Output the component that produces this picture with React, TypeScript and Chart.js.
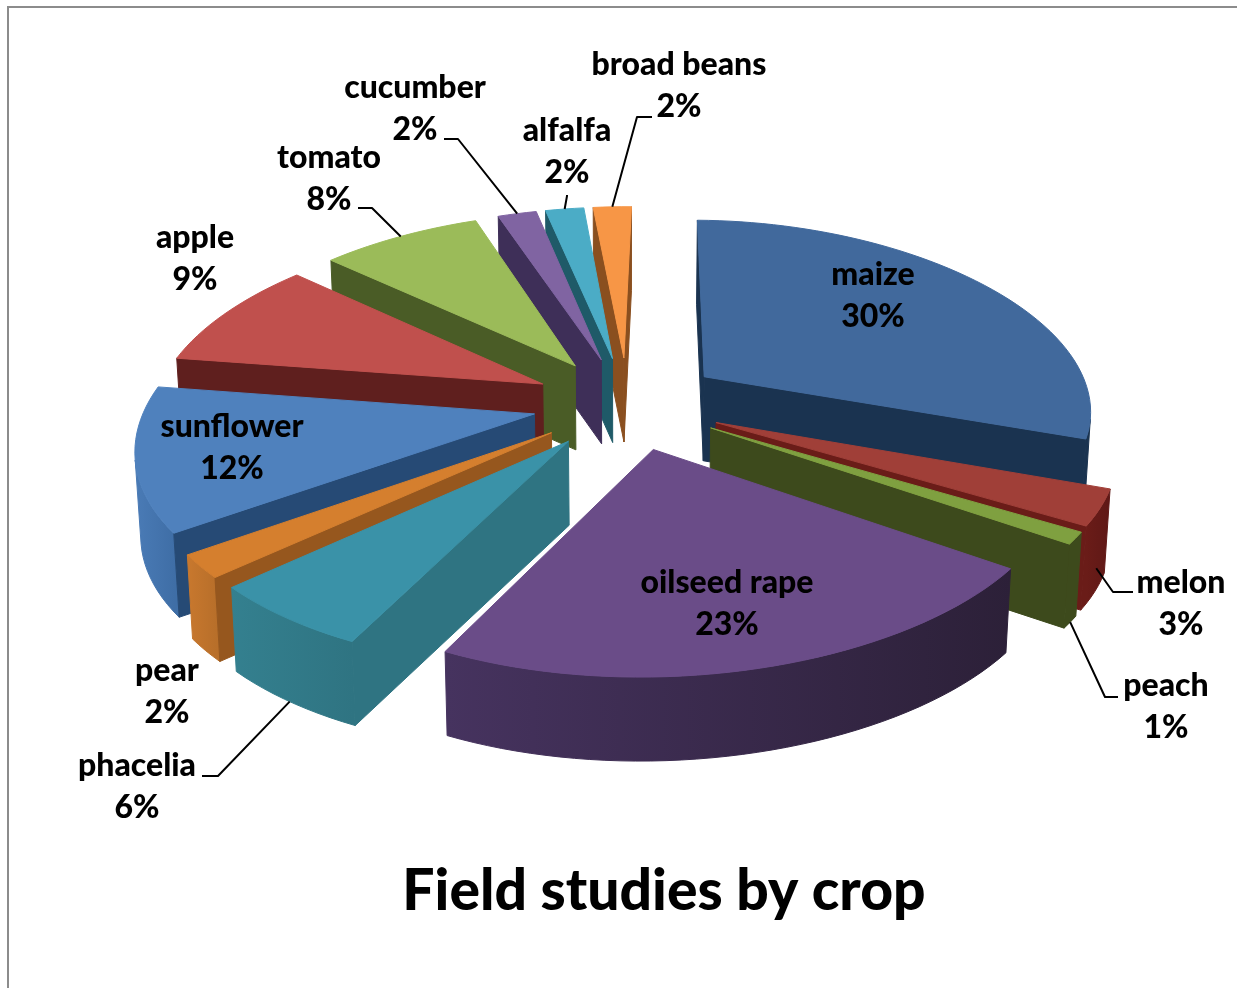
import React, { useEffect, useRef } from "react";
import { Chart, registerables } from "chart.js";

Chart.register(...registerables);

// Share of field studies per crop, clockwise from twelve o'clock.
const crops = ["maize", "melon", "peach", "oilseed rape", "phacelia", "pear", "sunflower", "apple", "tomato", "cucumber", "alfalfa", "broad beans"];
const shares = [30, 3, 1, 23, 6, 2, 12, 9, 8, 2, 2, 2];
const chartTitle = "Field studies by crop";

// Face colours: top, cut sides, outer wall at its left and right ends.
const topColors = ["#41699c", "#a03f38", "#7fa040", "#6a4c88", "#3a92a8", "#d57f2e", "#4f81bd", "#c0504d", "#9bbb59", "#8064a2", "#4bacc6", "#f79646"];
const cutColors = ["#1a3350", "#6a1c18", "#3d4a1c", "#3c2c55", "#2f7482", "#96571e", "#264a75", "#5f1f1e", "#4a5c26", "#3e2f58", "#1f5a68", "#8a4f1f"];
const wallLeft = ["#1a3350", "#6a1c18", "#3d4a1c", "#46335f", "#34808f", "#c8782e", "#4a7bb6", "#5f1f1e", "#4a5c26", "#3e2f58", "#1f5a68", "#8a4f1f"];
const wallRight = ["#1a3350", "#5e1816", "#3d4a1c", "#2c2038", "#2f7482", "#b86f2a", "#3f6ea6", "#5f1f1e", "#4a5c26", "#3e2f58", "#1f5a68", "#8a4f1f"];

// Centre of each two-line label on the canvas.
const labelCentres: [number, number][] = [
  [873, 296], [1181, 604], [1166, 707], [727, 604], [137, 787], [167, 692],
  [232, 448], [195, 259], [329, 179], [415, 109], [567, 152], [679, 86],
];

// Leader lines: the label-side end, the elbow, and how far down the wall they touch.
const leaders: { index: number; from: [number, number]; elbow: [number, number]; drop: number; along: number }[] = [
  { index: 1, from: [1133, 592], elbow: [1113, 592], drop: 0.72, along: 0.5 },
  { index: 2, from: [1118, 697], elbow: [1105, 697], drop: 1, along: 0.5 },
  { index: 4, from: [202, 776], elbow: [218, 776], drop: 1, along: 0.5 },
  { index: 8, from: [358, 208], elbow: [372, 208], drop: 0, along: 0.5 },
  { index: 9, from: [444, 139], elbow: [458, 139], drop: 0, along: 0.5 },
  { index: 10, from: [567, 195], elbow: [567, 196], drop: 0, along: 0.5 },
  { index: 11, from: [652, 117], elbow: [637, 117], drop: 0, along: 0.5 },
];

const FONT = "Lato, 'Open Sans', sans-serif";

// Viewing projection of the pie plane, in units of the pie radius.
const VIEW = { cx: 628, cy: 403, fx: 388, fy: 190, kx: 0.166, qx: 0.043, ky: 0.14, qy: 0.02, depth: 84, taper: 0.012, skewNear: -11, skewFar: 1 };

type Pt = [number, number];

function project(px: number, py: number, drop: number): Pt {
  const sx = 1 / (1 - VIEW.kx * py + VIEW.qx * py * py);
  const sy = 1 / (1 - VIEW.ky * py + VIEW.qy * py * py);
  const skew = (py > 0 ? VIEW.skewNear : VIEW.skewFar) * py * py;
  return [
    VIEW.cx + skew + VIEW.fx * px * sx * (1 - VIEW.taper * drop),
    VIEW.cy + VIEW.fy * py * sy + VIEW.depth * drop,
  ];
}

function fillPoly(ctx: CanvasRenderingContext2D, pts: Pt[], fill: string | CanvasGradient) {
  ctx.beginPath();
  pts.forEach((p, i) => (i ? ctx.lineTo(p[0], p[1]) : ctx.moveTo(p[0], p[1])));
  ctx.closePath();
  ctx.fillStyle = fill;
  ctx.strokeStyle = fill;
  ctx.lineWidth = 1;
  ctx.fill();
  ctx.stroke();
}

// Negative area in y-down space: the face turns towards the viewer.
function facesViewer(pts: Pt[]) {
  let a = 0;
  pts.forEach((p, i) => {
    const q = pts[(i + 1) % pts.length];
    a += p[0] * q[1] - q[0] * p[1];
  });
  return a < 0;
}

// Geometry of one slice, read from the pie's own arc element.
function sliceShape(arc: any) {
  const { startAngle, endAngle, outerRadius } = arc.getProps(["startAngle", "endAngle", "outerRadius"], true);
  const mid = (startAngle + endAngle) / 2;
  const off = (arc.options.offset || 0) / outerRadius;
  const ax = Math.cos(mid) * off;
  const ay = Math.sin(mid) * off;
  const steps = Math.max(2, Math.ceil(((endAngle - startAngle) / Math.PI) * 90));
  const rim: Pt[] = [];
  for (let i = 0; i <= steps; i++) {
    const a = startAngle + ((endAngle - startAngle) * i) / steps;
    rim.push([ax + Math.cos(a), ay + Math.sin(a)]);
  }
  return { ax, ay, mid, rim, startAngle, endAngle };
}

const solidPie = {
  id: "solidPie",
  beforeDatasetDraw(chart: any) {
    const ctx: CanvasRenderingContext2D = chart.ctx;
    const arcs = chart.getDatasetMeta(0).data;
    const shapes = arcs.map((arc: any, index: number) => ({ index, ...sliceShape(arc) }));
    const depthOf = (s: any) => s.ay + Math.sin(s.mid) * 0.55;
    const order = [...shapes].sort((a, b) => depthOf(a) - depthOf(b));

    for (const s of order) {
      const i = s.index;
      const top = [[s.ax, s.ay] as Pt, ...s.rim].map((p: Pt) => project(p[0], p[1], 0));
      const quad = (p: Pt, q: Pt): Pt[] => [project(p[0], p[1], 0), project(q[0], q[1], 0), project(q[0], q[1], 1), project(p[0], p[1], 1)];
      const apex: Pt = [s.ax, s.ay];
      const last = s.rim[s.rim.length - 1];

      // Outer wall as one band, shaded from left to right across its visible width.
      const xs = s.rim.map((p: Pt) => project(p[0], p[1], 0)[0]);
      const grad = ctx.createLinearGradient(Math.min(...xs), 0, Math.max(...xs) + 1, 0);
      grad.addColorStop(0, wallLeft[i]);
      grad.addColorStop(1, wallRight[i]);
      const upper: Pt[] = [];
      const lower: Pt[] = [];
      const flushBand = () => {
        if (upper.length > 1) fillPoly(ctx, [...upper, ...lower.slice().reverse()], grad);
        upper.length = 0;
        lower.length = 0;
      };
      for (let k = 0; k < s.rim.length - 1; k++) {
        const a = s.rim[k];
        const b = s.rim[k + 1];
        if (facesViewer(quad(a, b))) {
          if (!upper.length) {
            upper.push(project(a[0], a[1], 0));
            lower.push(project(a[0], a[1], 1));
          }
          upper.push(project(b[0], b[1], 0));
          lower.push(project(b[0], b[1], 1));
        } else {
          flushBand();
        }
      }
      flushBand();
      // The two cut sides running in to the apex.
      const cutA = quad(apex, s.rim[0]);
      if (facesViewer(cutA)) fillPoly(ctx, cutA, cutColors[i]);
      const cutB = quad(last, apex);
      if (facesViewer(cutB)) fillPoly(ctx, cutB, cutColors[i]);
      fillPoly(ctx, top, topColors[i]);
    }

    // Leader lines end on the slice's rim.
    ctx.strokeStyle = "#000";
    ctx.lineWidth = 2;
    ctx.lineJoin = "round";
    for (const l of leaders) {
      const s = shapes[l.index];
      const a = s.startAngle + (s.endAngle - s.startAngle) * l.along;
      const end = project(s.ax + Math.cos(a), s.ay + Math.sin(a), l.drop);
      ctx.beginPath();
      ctx.moveTo(l.from[0], l.from[1]);
      ctx.lineTo(l.elbow[0], l.elbow[1]);
      ctx.lineTo(end[0], end[1]);
      ctx.stroke();
    }

    // Category and percentage labels.
    ctx.fillStyle = "#000";
    ctx.textAlign = "center";
    ctx.textBaseline = "middle";
    ctx.font = `900 32px ${FONT}`;
    crops.forEach((name, i) => {
      const [x, y] = labelCentres[i];
      ctx.fillText(name, x, y - 21);
      ctx.fillText(`${shares[i]}%`, x, y + 21);
    });
    ctx.font = `900 57px ${FONT}`;
    ctx.fillText(chartTitle, 664, 892);
    return false;
  },
};

export default function App() {
  const ref = useRef<HTMLCanvasElement | null>(null);
  useEffect(() => {
    if (!ref.current) return;
    const chart = new Chart(ref.current, {
      type: "pie",
      data: {
        labels: crops,
        datasets: [{ data: shares, backgroundColor: topColors, offset: 108, borderWidth: 0 }],
      },
      options: {
        responsive: false,
        animation: false,
        rotation: 1,
        plugins: { legend: { display: false }, tooltip: { enabled: false } },
      },
      plugins: [solidPie],
    } as any);
    return () => chart.destroy();
  }, []);
  return (
    <div style={{ position: "fixed", left: 0, top: 0, width: 1237, height: 988, overflow: "hidden", background: "#fff" }}>
      <div style={{ position: "absolute", left: 7, top: 6, right: 0, bottom: 0, borderLeft: "2px solid #8c8c8c", borderTop: "2px solid #8c8c8c" }} />
      <canvas ref={ref} width={1237} height={988} style={{ position: "absolute", left: 0, top: 0, display: "block" }} />
    </div>
  );
}
